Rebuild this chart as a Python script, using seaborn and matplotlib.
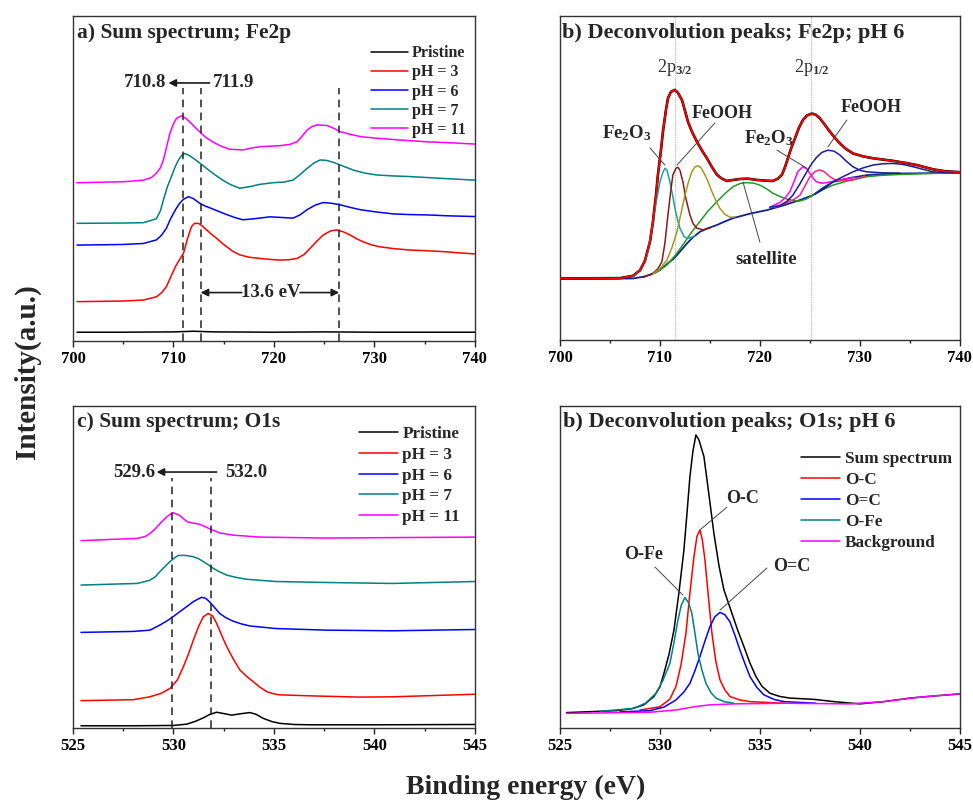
import numpy as np
import pandas as pd
import matplotlib
matplotlib.use("Agg")
import matplotlib.pyplot as plt
from matplotlib.ticker import MultipleLocator
import seaborn as sns

# ---------------- data ----------------
# Panel a: Fe2p sum spectra (offset-stacked, arbitrary units 0-100)
fe_pristine_x = [700.4, 705, 710, 712, 714, 720, 725, 730, 735, 740]
fe_pristine_y = [2.7, 2.7, 2.8, 3.0, 2.8, 2.7, 2.8, 2.7, 2.7, 2.7]

fe_ph3_x = [700.4, 705.0, 707.0, 708.3, 708.8, 709.3, 709.7, 710.2, 710.6, 711.0, 711.4, 711.8,
            712.1, 712.5, 712.9, 713.3, 713.8, 714.3, 714.8, 715.3, 715.9, 716.6, 717.5, 718.6,
            719.6, 720.6, 721.5, 722.3, 723.0, 723.6, 724.3, 724.9, 725.6, 726.2, 726.9, 727.6,
            728.2, 728.9, 729.7, 730.5, 732.0, 733.5, 735.0, 736.9, 738.5, 740.0]
fe_ph3_y = [12.1, 12.3, 12.6, 13.6, 14.8, 16.7, 19.5, 22.9, 25.0, 27.0, 31.5, 35.2,
            36.2, 36.2, 35.3, 34.2, 32.8, 31.6, 30.2, 29.0, 27.6, 26.5, 25.8, 25.4,
            25.1, 24.9, 25.0, 25.4, 26.6, 28.5, 30.8, 32.6, 33.8, 34.2, 33.6, 32.6,
            31.5, 30.5, 29.6, 29.0, 28.4, 28.0, 27.8, 27.5, 27.1, 26.8]

fe_ph6_x = [700.4, 705.0, 707.0, 708.3, 708.8, 709.3, 709.7, 710.2, 710.6, 711.0, 711.5, 712.0,
            712.6, 713.1, 713.6, 714.4, 715.3, 716.1, 716.9, 718.0, 719.6, 720.8, 721.9, 722.6,
            723.3, 724.1, 724.9, 725.7, 726.6, 727.6, 728.6, 730.2, 731.9, 733.5, 735.2, 737.5,
            740.0]
fe_ph6_y = [29.5, 29.7, 30.0, 31.1, 32.5, 34.7, 37.5, 40.4, 42.3, 43.6, 44.4, 43.8,
            42.4, 41.6, 41.0, 40.0, 38.9, 38.0, 37.3, 37.6, 38.2, 38.0, 37.8, 38.8,
            40.4, 41.8, 42.6, 42.4, 41.9, 41.1, 40.4, 39.7, 39.1, 38.9, 38.8, 38.5,
            38.3]

fe_ph7_x = [700.4, 705.0, 707.0, 708.3, 708.7, 709.0, 709.4, 709.8, 710.2, 710.5, 710.8, 711.1,
            711.5, 712.0, 712.6, 713.3, 714.1, 714.9, 715.7, 716.6, 717.6, 718.6, 719.9, 721.0,
            721.9, 722.6, 723.3, 724.0, 724.6, 725.2, 725.9, 726.9, 727.9, 729.0, 730.2, 731.8,
            733.5, 736.9, 740.0]
fe_ph7_y = [36.2, 36.3, 36.4, 37.6, 40.0, 43.4, 47.5, 50.6, 53.8, 55.7, 57.0, 57.7,
            57.2, 56.2, 54.8, 53.1, 51.2, 49.5, 48.1, 47.0, 47.5, 48.2, 48.7, 48.9,
            49.5, 51.2, 53.1, 54.8, 55.7, 55.6, 55.0, 53.8, 52.6, 51.7, 51.1, 50.8,
            50.6, 50.0, 49.5]

fe_ph11_x = [700.4, 705.0, 707.0, 707.8, 708.3, 708.7, 709.0, 709.3, 709.65, 710.0, 710.3, 710.8,
             711.2, 711.6, 712.1, 712.6, 713.2, 713.9, 714.7, 715.6, 716.9, 717.8, 718.6, 720.6,
             721.6, 722.3, 722.8, 723.3, 723.8, 724.3, 725.3, 726.0, 726.6, 727.6, 728.6, 730.2,
             731.9, 735.2, 737.5, 740.0]
fe_ph11_y = [48.7, 49.0, 49.5, 50.3, 51.6, 53.3, 55.7, 59.5, 63.9, 66.8, 68.5, 69.3,
             68.6, 67.5, 65.9, 64.4, 62.7, 61.3, 60.0, 59.0, 58.8, 59.4, 59.8, 60.1,
             60.5, 61.3, 63.0, 64.9, 66.0, 66.5, 66.3, 65.4, 64.4, 63.6, 62.9, 62.4,
             62.0, 61.3, 61.0, 60.6]

sum_labels = ["Pristine", "pH = 3", "pH = 6", "pH = 7", "pH = 11"]
sum_colors = ["#000000", "#FF0000", "#0000FF", "#008080", "#FF00FF"]
fe_marks = [711.0, 712.7, 726.5]

# Panel b: Fe2p deconvolution (pH 6)
fb_sum_x = [700.0, 706.0, 707.3, 708.0, 708.5, 709.0, 709.3, 709.6, 709.8, 710.1, 710.3, 710.6,
            710.8, 711.1, 711.5, 711.8, 712.2, 712.5, 712.8, 713.2, 713.7, 714.2, 714.7, 715.2,
            715.7, 716.2, 716.7, 717.3, 718.0, 718.8, 719.7, 720.5, 721.3, 721.8, 722.2, 722.5,
            722.8, 723.1, 723.5, 723.9, 724.3, 724.7, 725.2, 725.6, 726.0, 726.5, 727.0, 727.5,
            728.0, 728.6, 729.3, 730.3, 731.3, 732.3, 733.3, 734.5, 735.7, 737.3, 738.5, 740.0]
fb_sum_y = [19.0, 19.1, 19.8, 21.5, 24.5, 30.3, 36.5, 44.5, 51.0, 58.5, 64.3, 71.0,
            74.6, 76.6, 77.2, 76.3, 74.1, 70.8, 67.4, 64.3, 61.2, 58.5, 56.1, 53.4,
            51.0, 49.8, 49.1, 49.4, 49.7, 49.8, 49.4, 49.2, 49.1, 49.8, 51.0, 53.3,
            56.1, 59.0, 62.2, 65.5, 67.9, 69.3, 69.9, 69.5, 68.4, 66.4, 64.3, 62.4,
            60.7, 59.0, 57.6, 56.7, 56.1, 55.7, 55.3, 54.7, 54.0, 52.7, 52.1, 51.8]
fb_bg_x = [700.0, 707.3, 708.3, 709.0, 710.0, 710.8, 711.3, 711.7, 712.2, 712.7, 713.3, 714.0,
           714.8, 715.7, 716.5, 717.3, 719.0, 720.7, 722.3, 724.0, 725.3, 726.3, 727.3, 729.0,
           730.7, 732.3, 734.0, 740.0]
fb_bg_y = [18.8, 19.0, 19.5, 20.1, 21.6, 23.7, 24.9, 26.2, 28.0, 29.8, 31.7, 33.4,
           34.5, 35.5, 36.6, 37.6, 39.0, 40.1, 41.5, 43.2, 44.7, 46.9, 48.8, 50.0,
           50.9, 51.2, 51.4, 51.6]
fb_fe2o3_x = [707.3, 708.0, 708.7, 709.1, 709.5, 709.8, 710.0, 710.3, 710.5, 710.7, 711.0, 711.3,
              711.5, 711.8, 712.0, 712.4, 712.7, 713.1, 713.5]
fb_fe2o3_y = [19.3, 21.5, 26.0, 32.5, 40.6, 45.5, 48.8, 51.8, 53.0, 52.4, 48.8, 44.2,
              40.6, 36.7, 34.5, 32.0, 31.4, 31.6, 32.2]
fb_feooh_x = [708.3, 709.3, 709.8, 710.2, 710.5, 710.8, 711.1, 711.3, 711.6, 711.8, 712.0, 712.3,
              712.6, 713.0, 713.3, 713.7, 714.3, 715.0]
fb_feooh_y = [19.3, 20.6, 22.0, 24.2, 30.0, 38.6, 46.5, 51.0, 53.0, 53.3, 52.4, 48.8,
              43.6, 38.6, 36.0, 34.5, 34.0, 34.6]
fb_olive_x = [709.3, 710.0, 710.7, 711.2, 711.7, 712.1, 712.5, 712.9, 713.2, 713.5, 713.8, 714.1,
              714.4, 714.8, 715.2, 715.6, 716.0, 716.5, 717.0, 717.5]
fb_olive_y = [20.4, 22.0, 24.7, 28.5, 33.4, 39.0, 44.7, 49.3, 52.0, 53.4, 53.8, 53.2,
              51.6, 49.0, 45.8, 43.0, 40.6, 38.8, 37.9, 38.0]
fb_sat_x = [709.5, 710.7, 711.5, 712.3, 713.1, 714.0, 714.8, 715.7, 716.5, 717.3, 718.0, 718.7,
            719.4, 720.0, 720.7, 721.3, 722.0, 722.7, 723.4, 724.0, 724.7, 725.3, 726.3, 727.3,
            729.0, 730.7, 732.0, 734.0, 737.0, 740.0]
fb_sat_y = [20.6, 23.2, 26.0, 29.4, 33.0, 36.6, 39.8, 42.7, 45.2, 47.3, 48.3, 48.6,
            48.4, 47.8, 46.6, 45.3, 44.3, 43.5, 43.0, 42.9, 43.6, 44.7, 46.4, 47.8,
            49.3, 50.4, 50.8, 51.1, 51.4, 51.6]
fb_mag_x = [721.0, 722.0, 722.5, 723.0, 723.4, 723.8, 724.3, 724.7, 725.0, 725.4, 725.7, 726.2,
            726.7, 727.3, 728.0, 729.5]
fb_mag_y = [41.0, 42.5, 43.8, 45.8, 48.8, 52.0, 53.5, 52.8, 51.4, 49.6, 48.8, 48.4,
            48.6, 49.0, 49.4, 50.3]
fb_pink_x = [721.5, 722.7, 723.4, 724.0, 724.5, 725.0, 725.5, 726.0, 726.5, 727.0, 727.5, 728.0,
             729.3, 730.5]
fb_pink_y = [41.0, 42.4, 43.4, 44.7, 47.5, 50.4, 52.0, 52.5, 51.8, 50.4, 49.5, 49.1,
             49.4, 50.6]
fb_navy_x = [721.0, 722.0, 722.7, 723.3, 724.0, 724.7, 725.2, 725.7, 726.2, 726.8, 727.4, 728.0,
             728.6, 729.3, 730.0, 730.7, 732.3, 734.0]
fb_navy_y = [41.0, 41.5, 42.8, 44.7, 48.2, 52.0, 54.5, 56.5, 57.9, 58.6, 58.3, 57.1,
             55.3, 53.5, 52.4, 51.9, 51.6, 51.5]
fb_navy2_x = [725.5, 726.5, 727.3, 728.3, 729.3, 730.3, 731.3, 732.3, 733.3, 734.3, 735.3, 736.3,
              737.3, 738.5, 740.0]
fb_navy2_y = [45.0, 46.9, 48.8, 50.4, 51.9, 53.1, 54.0, 54.4, 54.5, 54.2, 53.5, 52.7,
              51.9, 51.7, 51.6]
fb_marks = [711.5, 725.1]

# Panel c: O1s sum spectra
o_pristine_x = [525.4, 528.0, 530.0, 530.66, 531.1, 531.5, 531.8, 532.15, 532.5, 532.9, 533.3,
                533.8, 534.1, 534.47, 534.9, 535.3, 536.0, 536.8, 540.0, 545.0]
o_pristine_y = [0.7, 0.7, 0.8, 1.2, 2.1, 3.2, 4.2, 4.9, 4.5, 4.0, 4.4,
                4.8, 4.3, 3.0, 2.0, 1.45, 1.1, 1.0, 1.0, 1.1]
o_ph3_x = [525.4, 528.0, 528.83, 529.4, 529.83, 530.2, 530.49, 530.75, 530.99, 531.25, 531.48,
           531.73, 531.95, 532.15, 532.4, 532.65, 533.0, 533.31, 533.65, 533.97, 534.3, 534.64,
           535.0, 535.3, 536.79, 539.28, 540.94, 543.0, 545.0]
o_ph3_y = [8.5, 8.8, 9.7, 10.8, 12.3, 15.0, 19.0, 23.0, 27.3, 31.5, 34.5,
           35.6, 34.8, 32.5, 28.8, 25.3, 21.2, 18.0, 16.0, 14.4, 12.7, 11.3,
           10.6, 10.3, 10.0, 9.6, 9.7, 10.1, 10.5]
o_ph6_x = [525.4, 528.0, 528.83, 529.33, 529.66, 529.99, 530.33, 530.66, 531.0, 531.4, 531.6,
           531.8, 532.05, 532.3, 532.6, 532.96, 533.4, 533.8, 535.1, 537.6, 540.9, 545.0]
o_ph6_y = [29.7, 30.0, 30.4, 32.0, 33.2, 34.6, 36.2, 37.7, 39.3, 40.6, 40.3,
           39.2, 37.4, 35.6, 34.3, 33.2, 32.3, 31.7, 30.9, 30.4, 30.2, 30.6]
o_ph7_x = [525.4, 528.2, 528.83, 529.1, 529.33, 529.6, 529.83, 530.04, 530.24, 530.6, 530.99,
           531.25, 531.48, 531.73, 531.98, 532.3, 532.65, 533.1, 533.64, 535.1, 537.6, 540.9,
           545.0]
o_ph7_y = [44.4, 44.9, 45.9, 47.0, 48.6, 50.3, 51.7, 52.8, 53.6, 53.6, 53.2,
           52.6, 51.7, 50.7, 49.6, 48.5, 47.5, 46.8, 46.2, 45.5, 45.2, 44.9,
           45.5]
o_ph11_x = [525.4, 528.2, 528.6, 528.83, 529.1, 529.33, 529.65, 529.96, 530.3, 530.5, 530.7,
            531.0, 531.3, 531.8, 532.3, 532.96, 534.3, 537.6, 545.0]
o_ph11_y = [58.2, 58.9, 59.5, 60.4, 61.9, 63.5, 65.5, 66.9, 66.1, 65.0, 64.0,
            63.6, 63.3, 61.9, 60.6, 59.9, 59.3, 59.0, 59.3]
o_marks = [529.94, 531.85]

# Panel d: O1s deconvolution (pH 6)
od_sum_x = [525.33, 527.83, 528.6, 529.2, 529.7, 530.0, 530.2, 530.45, 530.7, 530.95, 531.2,
            531.35, 531.5, 531.65, 531.8, 531.95, 532.2, 532.45, 532.7, 532.95, 533.2, 533.4,
            533.6, 533.9, 534.2, 534.5, 534.8, 535.1, 535.5, 536.0, 536.5, 537.7, 538.7, 540.0,
            541.2, 542.5, 543.8, 545.0]
od_sum_y = [4.8, 5.4, 6.0, 7.2, 9.8, 12.8, 17.0, 22.8, 30.4, 42.0, 55.3,
            66.5, 78.1, 86.0, 91.0, 89.5, 84.3, 72.5, 60.4, 50.5, 42.9, 39.3,
            35.6, 30.2, 25.3, 20.2, 16.0, 13.0, 10.8, 9.8, 9.3, 8.9, 8.2, 7.5,
            8.2, 9.3, 10.0, 10.6]
od_oc_x = [529.0, 530.0, 530.5, 530.8, 531.05, 531.3, 531.5, 531.7, 531.85, 532.0, 532.12,
           532.25, 532.42, 532.6, 532.8, 533.0, 533.25, 533.5, 534.0, 534.5, 536.2]
od_oc_y = [5.6, 6.6, 9.0, 12.9, 19.5, 29.4, 42.0, 53.2, 59.5, 61.5, 58.5,
           52.2, 41.0, 29.4, 20.5, 15.0, 11.8, 9.8, 8.7, 8.2, 7.7]
od_o2c_x = [528.0, 529.5, 530.2, 530.8, 531.2, 531.5, 531.75, 532.0, 532.25, 532.5, 532.75,
            533.0, 533.25, 533.5, 533.75, 534.0, 534.25, 534.5, 534.85, 535.2, 535.7, 536.2,
            537.8]
od_o2c_y = [5.0, 5.4, 6.5, 8.7, 11.2, 13.9, 17.8, 22.2, 27.0, 31.5, 34.6,
            35.9, 35.2, 33.0, 28.8, 24.2, 20.0, 16.0, 12.6, 10.3, 8.9, 8.2,
            7.7]
od_ofe_x = [527.0, 528.7, 529.3, 529.8, 530.15, 530.5, 530.7, 530.9, 531.07, 531.25, 531.42,
            531.6, 531.75, 531.9, 532.1, 532.3, 532.55, 532.8, 533.2, 533.7]
od_ofe_y = [5.2, 6.1, 7.8, 10.8, 14.8, 20.1, 26.5, 33.5, 38.2, 40.5, 39.0,
            35.6, 29.5, 23.2, 18.0, 13.9, 11.0, 9.3, 8.2, 7.7]
od_bg_x = [525.33, 529.5, 530.8, 531.7, 532.5, 533.7, 536.2, 539.5, 541.2, 543.0, 545.0]
od_bg_y = [4.55, 4.9, 5.6, 6.6, 7.2, 7.5, 7.7, 7.5, 8.2, 9.6, 10.6]
od_labels = ["Sum spectrum", "O-C", "O=C", "O-Fe", "Background"]
od_colors = ["#000000", "#FF0000", "#0000FF", "#008080", "#FF00FF"]

# ---------------- style ----------------
sns.set_theme(style="ticks")
plt.rcParams["font.family"] = ["Liberation Serif", "DejaVu Serif"]
plt.rcParams["font.weight"] = "bold"
plt.rcParams["mathtext.fontset"] = "custom"
plt.rcParams["mathtext.rm"] = "Liberation Serif"
plt.rcParams["mathtext.it"] = "Liberation Serif:italic"
plt.rcParams["mathtext.bf"] = "Liberation Serif:bold"

fig = plt.figure(figsize=(9.73, 8.01), dpi=100)
ax_a = fig.add_axes([0.075, 0.5743, 0.413, 0.4057])
ax_b = fig.add_axes([0.5755, 0.5755, 0.411, 0.4045])
ax_c = fig.add_axes([0.075, 0.0911, 0.413, 0.402])
ax_d = fig.add_axes([0.5755, 0.0911, 0.411, 0.402])


def line(ax, x, y, color, lw=1.1, label=None, z=2):
    sns.lineplot(x=x, y=y, ax=ax, color=color, linewidth=lw, sort=False,
                 estimator=None, label=label, legend=False, zorder=z)


def style_axis(ax, xlim, major, minor):
    ax.set_xlim(*xlim)
    ax.set_ylim(0, 100)
    ax.set_yticks([])
    ax.xaxis.set_major_locator(MultipleLocator(major))
    ax.xaxis.set_minor_locator(MultipleLocator(minor))
    ax.tick_params(axis="x", which="major", direction="out", length=4, width=1,
                   pad=3, labelsize=12, colors="#222222")
    ax.tick_params(axis="x", which="minor", direction="out", length=2.5, width=1,
                   colors="#222222")
    for lbl in ax.get_xticklabels():
        lbl.set_fontweight("bold")
        lbl.set_color("black")
    for s in ax.spines.values():
        s.set_color("#333333")
        s.set_linewidth(1.0)
    ax.set_xlabel("")
    ax.set_ylabel("")


def legend(ax, anchor, fs, ls):
    leg = ax.legend(loc="upper right", bbox_to_anchor=anchor, frameon=False,
                    fontsize=fs, handlelength=2.3, handletextpad=0.25,
                    labelspacing=ls, borderpad=0, borderaxespad=0)
    for t in leg.get_texts():
        t.set_fontweight("bold")


arrow_kw = dict(arrowstyle="-|>", color="k", lw=1.2, mutation_scale=11, shrinkA=0, shrinkB=0)
lead = dict(arrowstyle="-", color="#444444", lw=0.7, shrinkA=0, shrinkB=0)

# ---- panel a ----
for (x, y), lab, col in zip([(fe_pristine_x, fe_pristine_y), (fe_ph3_x, fe_ph3_y),
                             (fe_ph6_x, fe_ph6_y), (fe_ph7_x, fe_ph7_y),
                             (fe_ph11_x, fe_ph11_y)], sum_labels, sum_colors):
    line(ax_a, x, y, col, label=lab)
ax_a.vlines(fe_marks, 0, 77.8, colors="#222222", linestyles=(0, (5, 3.5)), linewidth=1.1)
style_axis(ax_a, (700, 740), 10, 5)
legend(ax_a, (0.978, 0.91), 11.5, 0.2)
ax_a.text(0.01, 0.948, "a) Sum spectrum; Fe2p", transform=ax_a.transAxes,
          fontsize=15.5, fontweight="bold", va="center", ha="left")
ax_a.text(709.3, 79.4, "710.8", fontsize=13.5, fontweight="bold", ha="right", va="center")
ax_a.text(713.9, 79.4, "711.9", fontsize=13.5, fontweight="bold", ha="left", va="center")
ax_a.annotate("", xy=(709.5, 79.4), xytext=(713.6, 79.4), arrowprops=arrow_kw)
ax_a.text(719.7, 14.9, "13.6 eV", fontsize=13.5, fontweight="bold", ha="center", va="center")
ax_a.annotate("", xy=(712.7, 14.9), xytext=(716.8, 14.9), arrowprops=arrow_kw)
ax_a.annotate("", xy=(726.5, 14.9), xytext=(722.6, 14.9), arrowprops=arrow_kw)

# ---- panel b ----
ax_b.vlines(fb_marks, 0, 100, colors="#b0b0b0", linestyles=(0, (1, 1)), linewidth=0.8)
line(ax_b, fb_sum_x, fb_sum_y, "#000000", lw=1.9, z=2)
line(ax_b, fb_bg_x, fb_bg_y, "#10208C", lw=1.3, z=3)
line(ax_b, fb_sat_x, fb_sat_y, "#229922", lw=1.1, z=3)
line(ax_b, fb_fe2o3_x, fb_fe2o3_y, "#20A0A0", lw=1.1, z=3)
line(ax_b, fb_feooh_x, fb_feooh_y, "#8B1A1A", lw=1.1, z=3)
line(ax_b, fb_olive_x, fb_olive_y, "#A09A20", lw=1.1, z=3)
line(ax_b, fb_mag_x, fb_mag_y, "#FF00FF", lw=1.1, z=3)
line(ax_b, fb_pink_x, fb_pink_y, "#FF2080", lw=1.1, z=3)
line(ax_b, fb_navy_x, fb_navy_y, "#1A1A9A", lw=1.1, z=3)
line(ax_b, fb_navy2_x, fb_navy2_y, "#1A1A9A", lw=1.1, z=3)
line(ax_b, fb_sum_x, fb_sum_y, "#FF0000", lw=1.3, z=4)
style_axis(ax_b, (700, 740), 10, 5)
ax_b.text(0.005, 0.948, "b) Deconvolution peaks; Fe2p; pH 6", transform=ax_b.transAxes,
          fontsize=16, fontweight="bold", va="center", ha="left")
ax_b.text(711.5, 84, r"2p$_{\mathrm{3/2}}$", fontsize=13, fontweight="normal",
          ha="center", va="center", color="#333333")
ax_b.text(725.2, 84, r"2p$_{\mathrm{1/2}}$", fontsize=13, fontweight="normal",
          ha="center", va="center", color="#333333")
fe2o3 = r"Fe$_\mathbf{2}$O$_\mathbf{3}$"
ax_b.text(706.7, 64.0, fe2o3, fontsize=13.5, fontweight="bold", ha="center", va="center")
ax_b.annotate("", xy=(710.5, 54.0), xytext=(709.0, 59.3), arrowprops=lead)
ax_b.text(716.2, 69.8, "FeOOH", fontsize=13, fontweight="bold", ha="center", va="center")
ax_b.annotate("", xy=(711.7, 54.0), xytext=(715.5, 67.0), arrowprops=lead)
ax_b.text(720.9, 62.3, fe2o3, fontsize=13.5, fontweight="bold", ha="center", va="center")
ax_b.annotate("", xy=(724.7, 53.0), xytext=(721.7, 58.6), arrowprops=lead)
ax_b.text(731.1, 71.9, "FeOOH", fontsize=13, fontweight="bold", ha="center", va="center")
ax_b.annotate("", xy=(726.8, 59.6), xytext=(728.7, 67.9), arrowprops=lead)
ax_b.text(720.6, 24.7, "satellite", fontsize=13.5, fontweight="bold", ha="center", va="center")
ax_b.annotate("", xy=(718.3, 48.8), xytext=(720.0, 30.2), arrowprops=lead)

# ---- panel c ----
for (x, y), lab, col in zip([(o_pristine_x, o_pristine_y), (o_ph3_x, o_ph3_y),
                             (o_ph6_x, o_ph6_y), (o_ph7_x, o_ph7_y),
                             (o_ph11_x, o_ph11_y)], sum_labels, sum_colors):
    line(ax_c, x, y, col, label=lab)
ax_c.vlines(o_marks, 0, 77.6, colors="#222222", linestyles=(0, (5, 3.5)), linewidth=1.1)
style_axis(ax_c, (525, 545), 5, 2.5)
legend(ax_c, (0.963, 0.938), 12.3, 0.28)
ax_c.text(0.01, 0.951, "c) Sum spectrum; O1s", transform=ax_c.transAxes,
          fontsize=15.5, fontweight="bold", va="center", ha="left")
ax_c.text(529.08, 79.5, "529.6", fontsize=13.5, fontweight="bold", ha="right", va="center")
ax_c.text(532.6, 79.5, "532.0", fontsize=13.5, fontweight="bold", ha="left", va="center")
ax_c.annotate("", xy=(529.16, 79.5), xytext=(532.15, 79.5), arrowprops=arrow_kw)

# ---- panel d ----
for (x, y), lab, col in zip([(od_sum_x, od_sum_y), (od_oc_x, od_oc_y), (od_o2c_x, od_o2c_y),
                             (od_ofe_x, od_ofe_y), (od_bg_x, od_bg_y)], od_labels, od_colors):
    line(ax_d, x, y, col, label=lab)
style_axis(ax_d, (525, 545), 5, 2.5)
legend(ax_d, (0.98, 0.86), 12.4, 0.28)
ax_d.text(0.0075, 0.951, "b) Deconvolution peaks; O1s; pH 6", transform=ax_d.transAxes,
          fontsize=16, fontweight="bold", va="center", ha="left")
ax_d.text(534.15, 71.4, "O-C", fontsize=13, fontweight="bold", ha="center", va="center")
ax_d.annotate("", xy=(532.0, 61.5), xytext=(533.35, 68.6), arrowprops=lead)
ax_d.text(529.2, 54.0, "O-Fe", fontsize=13, fontweight="bold", ha="center", va="center")
ax_d.annotate("", xy=(531.15, 41.3), xytext=(529.75, 50.0), arrowprops=lead)
ax_d.text(536.6, 50.3, "O=C", fontsize=13, fontweight="bold", ha="center", va="center")
ax_d.annotate("", xy=(533.0, 36.6), xytext=(535.35, 49.7), arrowprops=lead)

# ---- shared labels ----
fig.text(0.028, 0.536, "Intensity(a.u.)", rotation=90, fontsize=21, fontweight="bold",
         ha="center", va="center")
fig.text(0.54, 0.017, "Binding energy (eV)", fontsize=20, fontweight="bold",
         ha="center", va="center")

fig.savefig("out.png", dpi=100)
